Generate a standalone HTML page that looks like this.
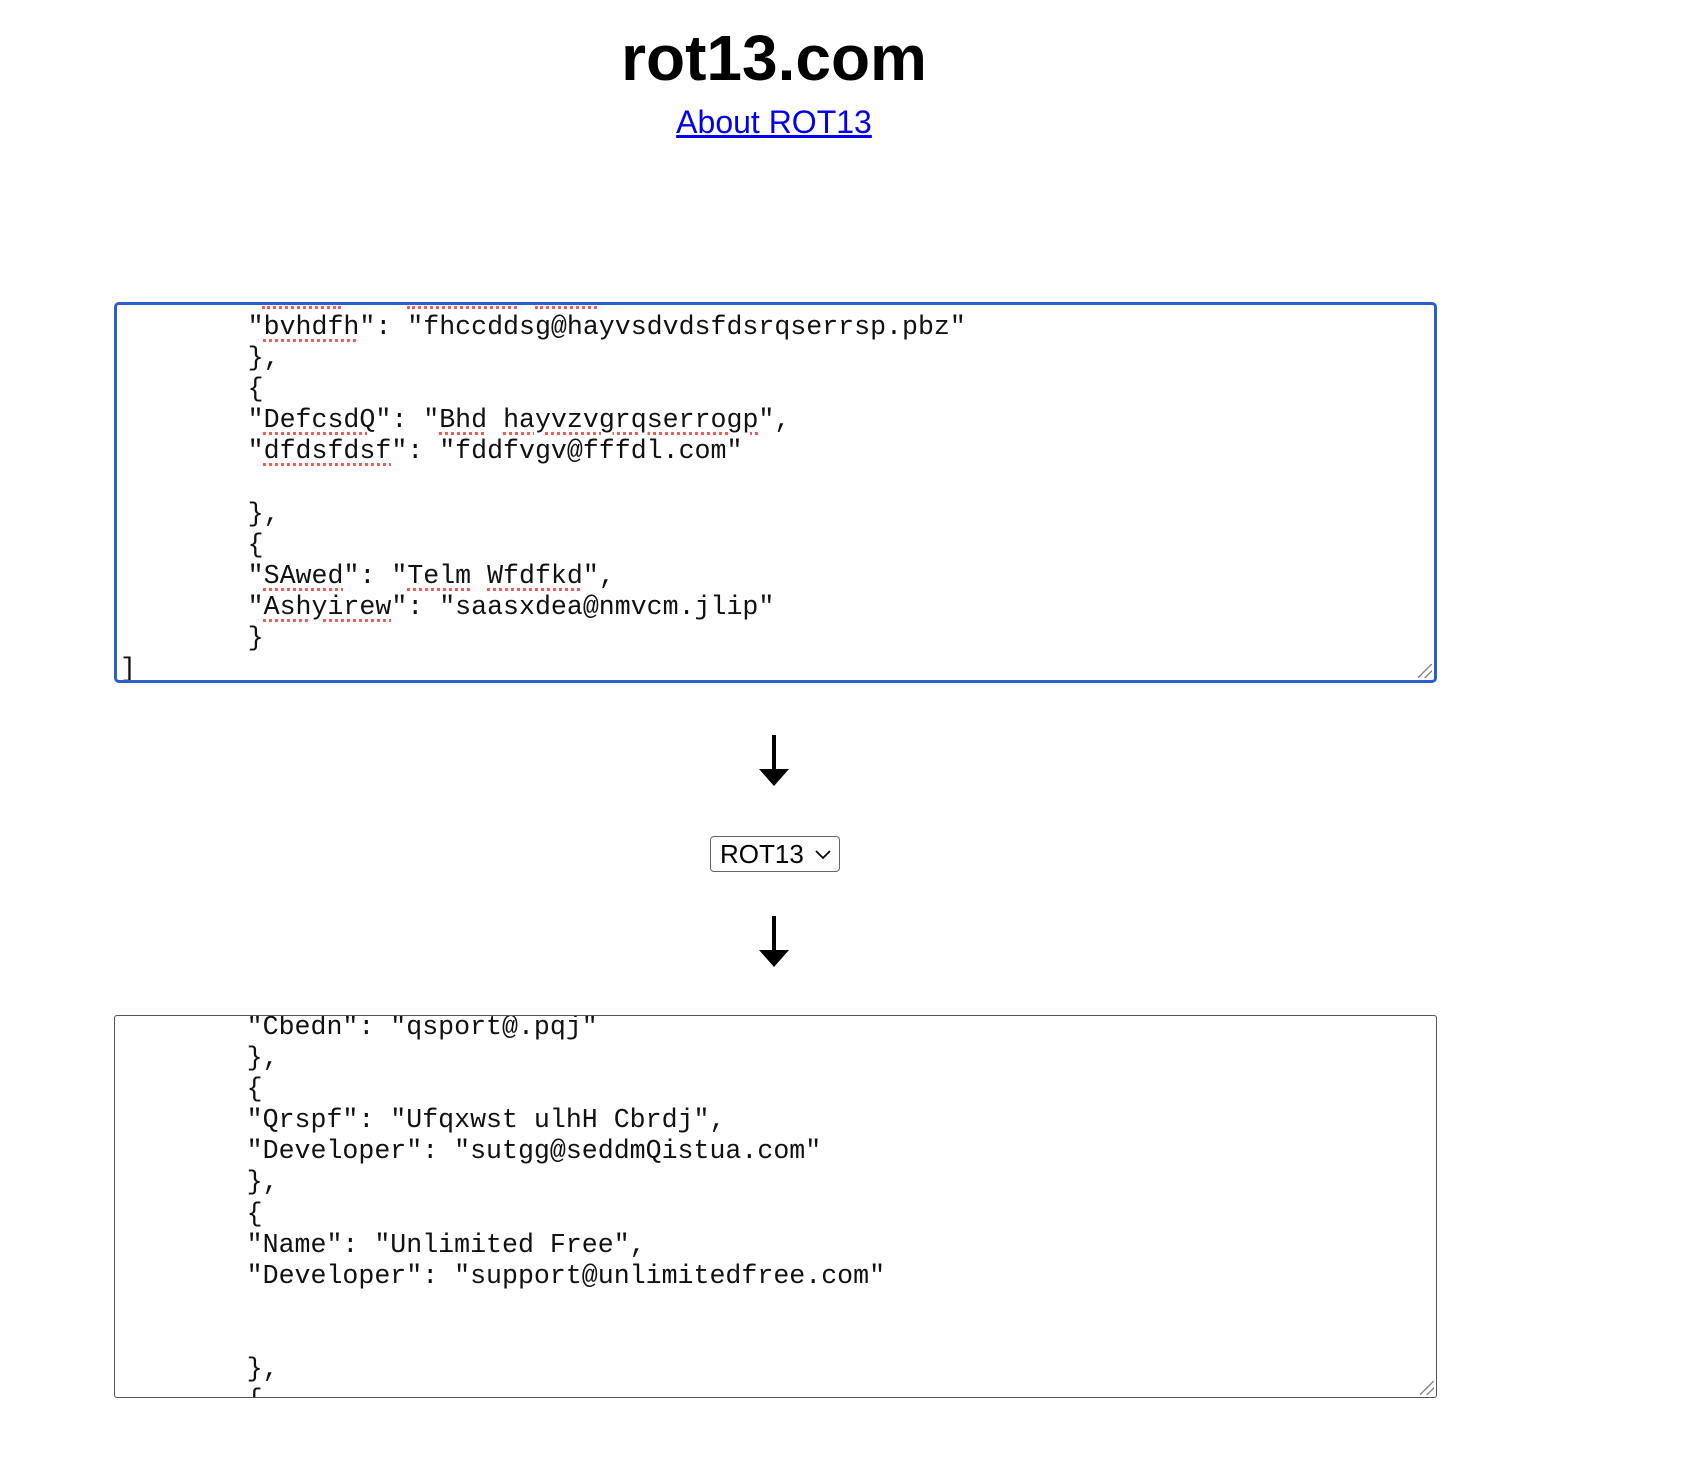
<!DOCTYPE html>
<html><head><meta charset="utf-8"><style>
html,body{margin:0;padding:0;background:#fff;width:1698px;height:1462px;overflow:hidden;position:relative;font-family:"Liberation Sans",Arial,sans-serif}
h1{position:absolute;left:0;width:1548px;top:18px;margin:0;text-align:center;font-size:64px;font-weight:bold;line-height:80px;color:#000}
.lnk{position:absolute;left:0;width:1548px;top:100px;text-align:center;font-size:32px;line-height:44px}
.lnk a{color:#0000ee;text-decoration:underline}
.ta{position:absolute;left:114px;width:1323px;box-sizing:border-box;overflow:hidden;background:#fff}
#t1{top:302px;height:381px;border:3px solid #2b5fc9;border-radius:5px}
#t2{top:1015px;height:383px;border:1.5px solid #555;border-radius:3px}
pre{position:absolute;left:0;margin:0;font-family:"Liberation Mono","Courier New",monospace;font-size:26.6px;line-height:31.1px;tab-size:8;-moz-tab-size:8;color:#111}
.s{text-decoration:underline dotted #e8605a;text-decoration-thickness:3px;text-underline-offset:5px}
.grip{position:absolute;right:2px;bottom:2px;width:14px;height:14px;background:linear-gradient(135deg,transparent 45%,#888 46%,#888 52%,transparent 53%,transparent 70%,#888 71%,#888 77%,transparent 78%)}
.arrow{position:absolute;left:772px;width:4px;background:#000}
.head{position:absolute;left:759px;width:0;height:0;border-left:15px solid transparent;border-right:15px solid transparent;border-top:17px solid #000}
.sel{position:absolute;left:710px;top:836px;width:130px;height:36px;box-sizing:border-box;border:1px solid #666;border-radius:4px;font-size:26px;line-height:34px;padding-left:9px;color:#000;background:#fff}
.dots{position:absolute;top:306px;height:3px;border-top:3px dotted #e8605a}
</style></head><body>
<h1>rot13.com</h1>
<div class="lnk"><a>About ROT13</a></div>

<div class="ta" id="t1">
<pre style="top:7px;left:3px">	"<span class="s">bvhdfh</span>": "fhccddsg@hayvsdvdsfdsrqserrsp.pbz"
	},
	{
	"<span class="s">DefcsdQ</span>": "<span class="s">Bhd</span> <span class="s">hayvzvgrqserrogp</span>",
	"<span class="s">dfdsfdsf</span>": "fddfvgv@fffdl.com"

	},
	{
	"<span class="s">SAwed</span>": "<span class="s">Telm</span> <span class="s">Wfdfkd</span>",
	"<span class="s">Ashyirew</span>": "saasxdea@nmvcm.jlip"
	}
]</pre>
<div class="grip"></div>
</div>
<div class="dots" style="left:262px;width:79px"></div>
<div class="dots" style="left:407px;width:110px"></div>
<div class="dots" style="left:535px;width:62px"></div>

<div class="arrow" style="top:735px;height:38px"></div>
<div class="head" style="top:769px"></div>

<div class="sel">ROT13<svg style="position:absolute;left:104px;top:13px" width="16" height="10" viewBox="0 0 16 10"><polyline points="1,1 8,8 15,1" fill="none" stroke="#000" stroke-width="1.8"/></svg></div>

<div class="arrow" style="top:916px;height:38px"></div>
<div class="head" style="top:950px"></div>

<div class="ta" id="t2">
<pre style="top:-4px;left:4px">	"Cbedn": "qsport@.pqj"
	},
	{
	"Qrspf": "Ufqxwst ulhH Cbrdj",
	"Developer": "sutgg@seddmQistua.com"
	},
	{
	"Name": "Unlimited Free",
	"Developer": "support@unlimitedfree.com"


	},
	{</pre>
<div class="grip"></div>
</div>
</body></html>
